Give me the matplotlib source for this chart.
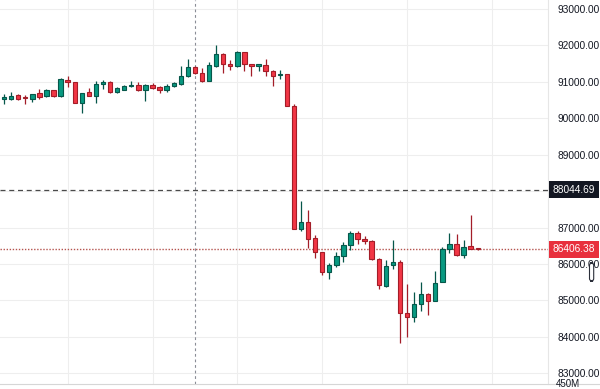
import matplotlib
matplotlib.use("Agg")
import matplotlib.pyplot as plt
import matplotlib.transforms as mtransforms
from matplotlib.patches import FancyBboxPatch
import numpy as np

plt.rcParams['font.family'] = ['Liberation Sans', 'DejaVu Sans']

# candle data (one candle per column)
opens = [90530, 90530, 90631, 90565, 90538, 90686, 90612, 90768, 90612, 91051,
         90988, 90411, 90713, 90620, 90941, 91004, 90722, 90790, 90873, 90914,
         90777, 90914, 90859, 90777, 90895, 90941, 91169, 91400, 91235, 91032,
         91435, 91765, 91490, 91435, 91811, 91482, 91444, 91463, 91306, 91175,
         91216, 90337, 86961, 87145, 86714, 86321, 85789, 85973, 86220, 86522,
         86843, 86686, 86632, 86129, 85396, 85973, 86047, 84647, 84537, 84894,
         85168, 84993, 85498, 86404, 86549, 86247, 86494, 86426]
highs = [90667, 90722, 90659, 90639, 90667, 90796, 90796, 90777, 91098, 91161,
         91004, 90702, 90823, 91024, 91051, 91024, 90867, 90914, 91032, 90996,
         90928, 90960, 90886, 90933, 91004, 91435, 91619, 91422, 91372, 91537,
         92012, 91784, 91600, 91855, 91828, 91490, 91490, 91627, 91326, 91339,
         91229, 90384, 87730, 87483, 86783, 86338, 86019, 86338, 86604, 86898,
         86906, 86777, 86659, 86157, 86110, 86659, 86110, 85451, 85223, 85514,
         85196, 85808, 86475, 86843, 86824, 86659, 87345, 86448]
lows = [90392, 90502, 90502, 90392, 90455, 90530, 90593, 90593, 90593, 90867,
        90411, 90153, 90612, 90411, 90804, 90702, 90686, 90777, 90867, 90757,
        90475, 90804, 90686, 90713, 90867, 90914, 91142, 91202, 91004, 91024,
        91416, 91251, 91326, 91416, 91306, 91169, 91298, 91169, 90895, 91065,
        90337, 86953, 86914, 86448, 86157, 85685, 85588, 85926, 86055, 86385,
        86536, 86549, 86110, 85306, 85355, 85855, 83823, 83988, 84416, 84710,
        84600, 84993, 85498, 86294, 86228, 86173, 86404, 86385]
closes = [90598, 90620, 90538, 90549, 90659, 90593, 90777, 90612, 91070, 90988,
          90428, 90686, 90620, 90941, 91004, 90722, 90823, 90892, 90914, 90777,
          90914, 90840, 90777, 90895, 90969, 91169, 91400, 91235, 91032, 91463,
          91765, 91490, 91435, 91828, 91482, 91444, 91482, 91306, 91169, 91210,
          90346, 86961, 87145, 86695, 86330, 85789, 85973, 86225, 86522, 86859,
          86686, 86632, 86129, 85424, 85945, 86047, 84647, 84537, 84894, 85168,
          84993, 85471, 86412, 86549, 86247, 86475, 86412, 86406.38]

price_ticks = [83000, 84000, 85000, 86000, 87000, 88000, 89000, 90000, 91000, 92000, 93000]
crosshair_idx = 27
crosshair_price = 88044.69
last_price = 86406.38

up_fill, up_edge = '#089981', '#06574a'
dn_fill, dn_edge = '#f23645', '#a31d28'

fig = plt.figure(figsize=(6, 3.89), dpi=100)
ax = fig.add_axes([0, 5 / 389, 548 / 600, 384 / 389])

o = np.array(opens, dtype=float)
h = np.array(highs, dtype=float)
l = np.array(lows, dtype=float)
c = np.array(closes, dtype=float)
x = np.arange(len(o))
up = c >= o

# grid
for p in price_ticks:
    ax.axhline(p, color='#eeeeee', lw=0.8, zorder=0)
for gx in [9, 21, 33, 45, 57, 69]:
    ax.axvline(gx, color='#eeeeee', lw=0.8, zorder=0)

# wicks
ax.vlines(x[up], l[up], h[up], color=up_edge, lw=0.9, zorder=2)
ax.vlines(x[~up], l[~up], h[~up], color=dn_edge, lw=0.9, zorder=2)

# bodies
bottom = np.minimum(o, c)
height = np.maximum(np.abs(c - o), 30)
ax.bar(x[up], height[up], bottom=bottom[up], width=0.62, color=up_fill,
       edgecolor=up_edge, linewidth=0.8, zorder=3)
ax.bar(x[~up], height[~up], bottom=bottom[~up], width=0.62, color=dn_fill,
       edgecolor=dn_edge, linewidth=0.8, zorder=3)

# crosshair and last price line
ax.axvline(crosshair_idx, color='#8a8d96', lw=0.8, dashes=(2.5, 2.5), zorder=1)
ax.axhline(crosshair_price, color='#4a4a4a', lw=0.9, dashes=(4, 3), zorder=1)
ax.axhline(last_price, color='#b5544f', lw=1.0, dashes=(1, 1.2), zorder=1)

ax.set_xlim(-0.57, 76.94)
ax.set_ylim(82706, 93247)

# the crosshair label sits over the 88000 tick, so that one is left blank
ax.yaxis.tick_right()
ax.set_yticks(price_ticks)
ax.set_yticklabels(['' if p == 88000 else '%.2f' % p for p in price_ticks])
ax.tick_params(axis='y', length=0, pad=7, labelsize=7.3, labelcolor='#131722')
ax.set_xticks([])
for s in ['top', 'left', 'bottom']:
    ax.spines[s].set_visible(False)
ax.spines['right'].set_color('#e6e6e6')
ax.spines['right'].set_linewidth(0.8)

trans = mtransforms.blended_transform_factory(ax.transAxes, ax.transData)
ax.text(1.009, crosshair_price, '%.2f' % crosshair_price, transform=trans,
        ha='left', va='center', fontsize=7.3, color='white', zorder=10,
        clip_on=False,
        bbox=dict(boxstyle='square,pad=0.35', fc='#131722', ec='none'))
ax.text(1.009, last_price, '%.2f' % last_price, transform=trans,
        ha='left', va='center', fontsize=7.3, color='white', zorder=10,
        clip_on=False,
        bbox=dict(boxstyle='square,pad=0.35', fc='#e8303d', ec='none'))

# small scroll handle icon on the price scale
icon = FancyBboxPatch((589.5 / 600, 1 - 281 / 389), 4.2 / 600, 18 / 389,
                      boxstyle='round,pad=0,rounding_size=0.006',
                      transform=fig.transFigure, fc='white', ec='#2a2e39', lw=0.8)
fig.patches.append(icon)

# volume pane separator and label
fig.add_artist(plt.Line2D([0, 1], [5 / 389, 5 / 389], color='#d6d6d6', lw=0.8,
                          transform=fig.transFigure))
fig.text(556 / 600, 10 / 389, '450M', fontsize=7, color='#131722', va='top', ha='left')

fig.savefig('out.png', dpi=100)
